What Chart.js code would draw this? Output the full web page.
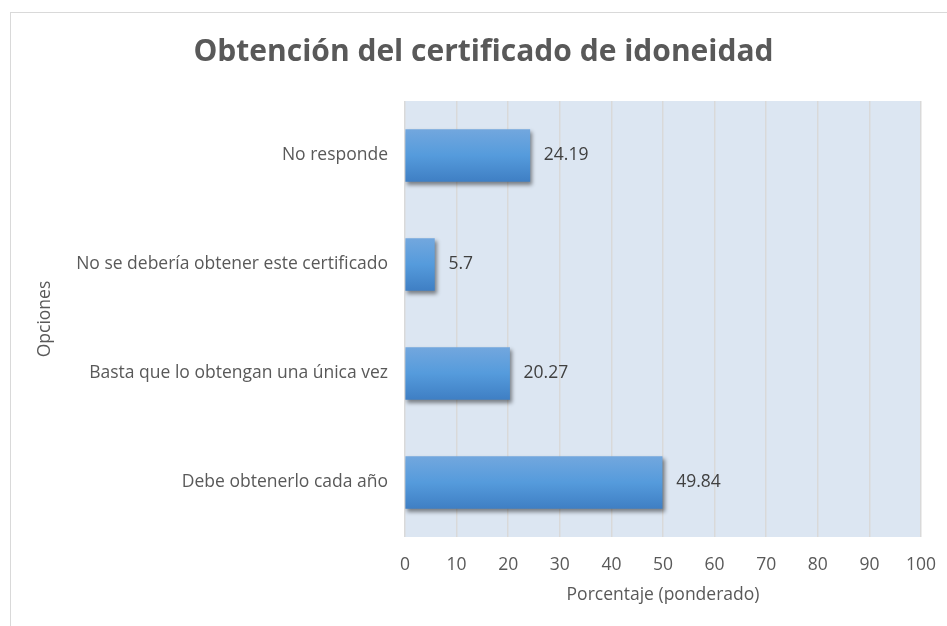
<!DOCTYPE html>
<html lang="es">
<head>
<meta charset="utf-8">
<title>Obtención del certificado de idoneidad</title>
<script src="https://cdn.jsdelivr.net/npm/chart.js@4.4.1/dist/chart.umd.min.js"></script>
<style>
    html, body { margin: 0; padding: 0; background: #ffffff; }
    #wrap { width: 947px; height: 626px; position: relative; }
</style>
</head>
<body>
<div id="wrap"><canvas id="certChart" width="947" height="626"></canvas></div>
<script>
// datos del gráfico
const categorias = ['No responde', 'No se debería obtener este certificado', 'Basta que lo obtengan una única vez', 'Debe obtenerlo cada año'];
const porcentajes = [24.19, 5.7, 20.27, 49.84];
const ticksX = [0, 10, 20, 30, 40, 50, 60, 70, 80, 90, 100];

const textColor = '#595959';
const fontName = '"Open Sans", Lato, sans-serif';
const textSize = 17.5;

// marco gris alrededor del gráfico + fondo del área de trazado
const fondoPlugin = {
    id: 'fondo',
    beforeDraw(chart) {
        const ctx = chart.ctx;
        const a = chart.chartArea;
        ctx.save();
        ctx.strokeStyle = '#d9d9d9';
        ctx.lineWidth = 1;
        ctx.strokeRect(10.5, 12.5, chart.width + 10, chart.height + 10);
        ctx.fillStyle = '#dce6f2';
        ctx.fillRect(a.left, a.top, a.right - a.left, a.bottom - a.top);
        ctx.restore();
    }
};

// sombra de las barras
const sombraPlugin = {
    id: 'sombra',
    beforeDatasetsDraw(chart) {
        const ctx = chart.ctx;
        ctx.save();
        ctx.shadowColor = 'rgba(0, 0, 0, 0.45)';
        ctx.shadowBlur = 4;
        ctx.shadowOffsetX = 2;
        ctx.shadowOffsetY = 3;
    },
    afterDatasetsDraw(chart) {
        chart.ctx.restore();
    }
};

// etiquetas de valor al final de cada barra
const etiquetasPlugin = {
    id: 'etiquetas',
    afterDatasetsDraw(chart) {
        const ctx = chart.ctx;
        const meta = chart.getDatasetMeta(0);
        ctx.save();
        ctx.fillStyle = '#404040';
        ctx.font = textSize + 'px ' + fontName;
        ctx.textAlign = 'left';
        ctx.textBaseline = 'middle';
        meta.data.forEach((bar, i) => {
            ctx.fillText(String(porcentajes[i]), bar.x + 14, bar.y);
        });
        ctx.restore();
    }
};

function degradadoBarra(c) {
    const chart = c.chart;
    if (!chart.chartArea) return '#5b9bd5';
    const y = chart.scales.y.getPixelForValue(c.dataIndex);
    const h = 26;
    const g = chart.ctx.createLinearGradient(0, y - h, 0, y + h);
    g.addColorStop(0, '#72a7de');
    g.addColorStop(0.5, '#559bdc');
    g.addColorStop(1, '#3f7fc4');
    return g;
}

function initializeChart() {
    const ctx = document.getElementById('certChart').getContext('2d');
    const chart = new Chart(ctx, {
        type: 'bar',
        data: {
            labels: categorias,
            datasets: [{
                data: porcentajes,
                backgroundColor: degradadoBarra,
                borderWidth: 0,
                barThickness: 52
            }]
        },
        plugins: [fondoPlugin, sombraPlugin, etiquetasPlugin],
        options: {
            indexAxis: 'y',
            responsive: false,
            animation: false,
            layout: { padding: { left: 20, right: 0, top: 0, bottom: 0 } },
            plugins: {
                legend: { display: false },
                tooltip: { enabled: false },
                title: {
                    display: true,
                    text: 'Obtención del certificado de idoneidad',
                    color: textColor,
                    font: { family: fontName, size: 30, weight: 'bold' },
                    padding: { top: 34, bottom: 31 }
                }
            },
            scales: {
                x: {
                    min: 0,
                    max: 100,
                    afterBuildTicks(scale) {
                        scale.ticks = ticksX.map(v => ({ value: v }));
                    },
                    afterFit(scale) {
                        scale.height = 89;
                        scale.paddingLeft = 0;
                        scale.paddingRight = 26; // hueco a la derecha del área de trazado
                    },
                    grid: { color: '#d9d9d9', lineWidth: 1.5, drawTicks: false },
                    border: { display: false },
                    ticks: { color: textColor, padding: 17.5, font: { family: fontName, size: textSize } },
                    title: {
                        display: true,
                        text: 'Porcentaje (ponderado)',
                        color: textColor,
                        font: { family: fontName, size: textSize },
                        padding: { top: 0, bottom: 20.5 }
                    }
                },
                y: {
                    afterFit(scale) { scale.width = 385; },
                    grid: { display: false, drawTicks: false },
                    border: { display: false },
                    ticks: { color: textColor, padding: 17, font: { family: fontName, size: textSize } },
                    title: {
                        display: true,
                        text: 'Opciones',
                        color: textColor,
                        font: { family: fontName, size: textSize },
                        padding: { top: 14.5, bottom: 0 }
                    }
                }
            }
        }
    });
    console.log('chart area', chart.chartArea);
}

document.addEventListener('DOMContentLoaded', () => {
    initializeChart();
});
</script>
</body>
</html>
